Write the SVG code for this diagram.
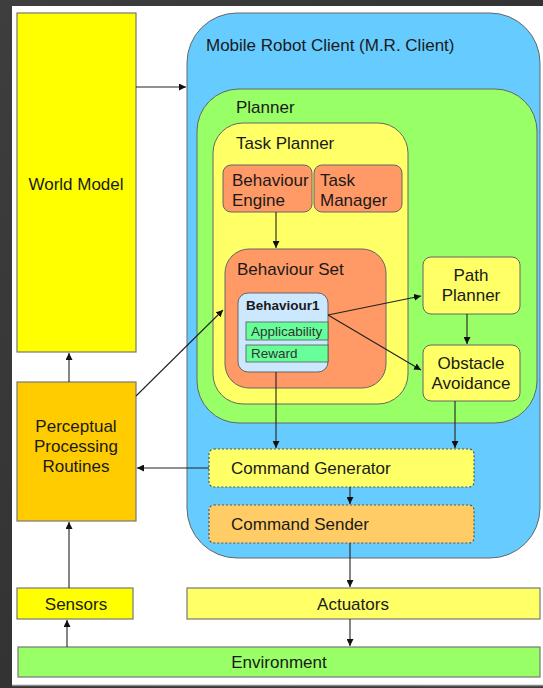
<svg xmlns="http://www.w3.org/2000/svg" width="543" height="688" viewBox="0 0 543 688">
  <defs>
    <marker id="ah" viewBox="0 0 10 10" refX="10" refY="5" markerWidth="7" markerHeight="7" orient="auto-start-reverse" markerUnits="userSpaceOnUse">
      <path d="M0,0 L10,5 L0,10 z" fill="#111"/>
    </marker>
    <linearGradient id="bg" x1="0" y1="0" x2="1" y2="1">
      <stop offset="0" stop-color="#3e3e3e"/>
      <stop offset="0.5" stop-color="#333"/>
      <stop offset="1" stop-color="#3c3c3c"/>
    </linearGradient>
  </defs>
  <style>
    text { font-family: "Liberation Sans", Arial, sans-serif; font-size: 17px; fill: #1a1a1a; }
    .box { stroke: #777; stroke-width: 1.2; }
    .rbox { stroke: #666; stroke-width: 1; }
    .dash { stroke: #555; stroke-width: 1.2; stroke-dasharray: 2 2; }
    .c { text-anchor: middle; }
    .small { font-size: 13.5px; }
    .conn line { stroke: #222; stroke-width: 1.1; fill: none; marker-end: url(#ah); }
  </style>

  <!-- dark backdrop and white sheet -->
  <rect x="0" y="0" width="543" height="688" fill="url(#bg)"/>
  <rect x="12" y="6" width="531" height="679" fill="#ffffff"/>
  <line x1="12" y1="685.5" x2="543" y2="685.5" stroke="#888" stroke-width="1.5"/>

  <g id="world-model">
    <rect class="box" x="17" y="13" width="119" height="339" fill="#ffff00"/>
    <text class="c" x="76" y="190">World Model</text>
  </g>

  <g id="perceptual-processing">
    <rect class="box" x="17" y="382" width="119" height="139" fill="#ffcc00"/>
    <text class="c" x="76" y="432">Perceptual</text>
    <text class="c" x="76" y="452">Processing</text>
    <text class="c" x="76" y="472">Routines</text>
  </g>

  <g id="mr-client">
    <rect class="rbox" x="187" y="13" width="353" height="545" rx="50" fill="#66ccff"/>
    <text x="206" y="51">Mobile Robot Client (M.R. Client)</text>
  </g>

  <g id="planner">
    <rect class="rbox" x="197" y="89" width="340" height="334" rx="42" fill="#99ff66"/>
    <text x="236" y="113">Planner</text>
  </g>

  <g id="task-planner">
    <rect class="rbox" x="213" y="123" width="195" height="281" rx="30" fill="#ffff66"/>
    <text x="236" y="149">Task Planner</text>
  </g>

  <g id="behaviour-engine">
    <rect class="rbox" x="223" y="165" width="89" height="47" rx="8" fill="#ff9966"/>
    <text x="232" y="186">Behaviour</text>
    <text x="232" y="206">Engine</text>
  </g>

  <g id="task-manager">
    <rect class="rbox" x="314" y="165" width="88" height="47" rx="8" fill="#ff9966"/>
    <text x="320" y="186">Task</text>
    <text x="320" y="206">Manager</text>
  </g>

  <g id="behaviour-set">
    <rect class="rbox" x="225" y="249" width="161" height="139" rx="24" fill="#ff9966"/>
    <text x="237" y="275">Behaviour Set</text>
  </g>

  <g id="behaviour1">
    <rect class="rbox" x="238" y="293" width="90" height="79" rx="10" fill="#cce8ff"/>
    <text class="small" x="246" y="310" style="font-weight:bold">Behaviour1</text>
    <rect x="246" y="322" width="82" height="18" fill="#66ff99" stroke="#555" stroke-width="0.8"/>
    <text class="small" x="251" y="336" style="fill:#333">Applicability</text>
    <rect x="246" y="345" width="82" height="17" fill="#66ff99" stroke="#555" stroke-width="0.8"/>
    <text class="small" x="251" y="358" style="fill:#333">Reward</text>
  </g>

  <g id="path-planner">
    <rect class="rbox" x="423" y="257" width="97" height="57" rx="8" fill="#ffff66"/>
    <text class="c" x="471" y="281">Path</text>
    <text class="c" x="471" y="301">Planner</text>
  </g>

  <g id="obstacle-avoidance">
    <rect class="rbox" x="423" y="345" width="97" height="56" rx="8" fill="#ffff66"/>
    <text class="c" x="471" y="369">Obstacle</text>
    <text class="c" x="471" y="389">Avoidance</text>
  </g>

  <g id="command-generator">
    <rect class="dash" x="209" y="449" width="265" height="38" rx="5" fill="#ffff66"/>
    <text x="231" y="474">Command Generator</text>
  </g>

  <g id="command-sender">
    <rect class="dash" x="209" y="505" width="265" height="38" rx="5" fill="#ffcc66"/>
    <text x="231" y="530">Command Sender</text>
  </g>

  <g id="sensors">
    <rect class="box" x="17" y="588" width="116" height="31" fill="#ffff00"/>
    <text class="c" x="76" y="610">Sensors</text>
  </g>

  <g id="actuators">
    <rect class="box" x="187" y="588" width="353" height="31" fill="#ffff66"/>
    <text class="c" x="353" y="610">Actuators</text>
  </g>

  <g id="environment">
    <rect class="box" x="18" y="647" width="522" height="30" fill="#99ff66"/>
    <text class="c" x="279" y="668">Environment</text>
  </g>

  <g id="connectors" class="conn">
    <line x1="136" y1="87" x2="186" y2="87"/>
    <line x1="69" y1="382" x2="69" y2="353"/>
    <line x1="69" y1="588" x2="69" y2="522"/>
    <line x1="67" y1="647" x2="67" y2="620"/>
    <line x1="209" y1="468" x2="137" y2="468"/>
    <line x1="136" y1="396" x2="223" y2="310"/>
    <line x1="276" y1="212" x2="276" y2="248"/>
    <line x1="328" y1="315" x2="421" y2="296"/>
    <line x1="328" y1="315" x2="421" y2="370"/>
    <line x1="467" y1="314" x2="467" y2="344"/>
    <line x1="276" y1="372" x2="276" y2="448"/>
    <line x1="455" y1="401" x2="455" y2="448"/>
    <line x1="350" y1="487" x2="350" y2="504"/>
    <line x1="350" y1="543" x2="350" y2="587"/>
    <line x1="350" y1="619" x2="350" y2="646"/>
  </g>
</svg>
